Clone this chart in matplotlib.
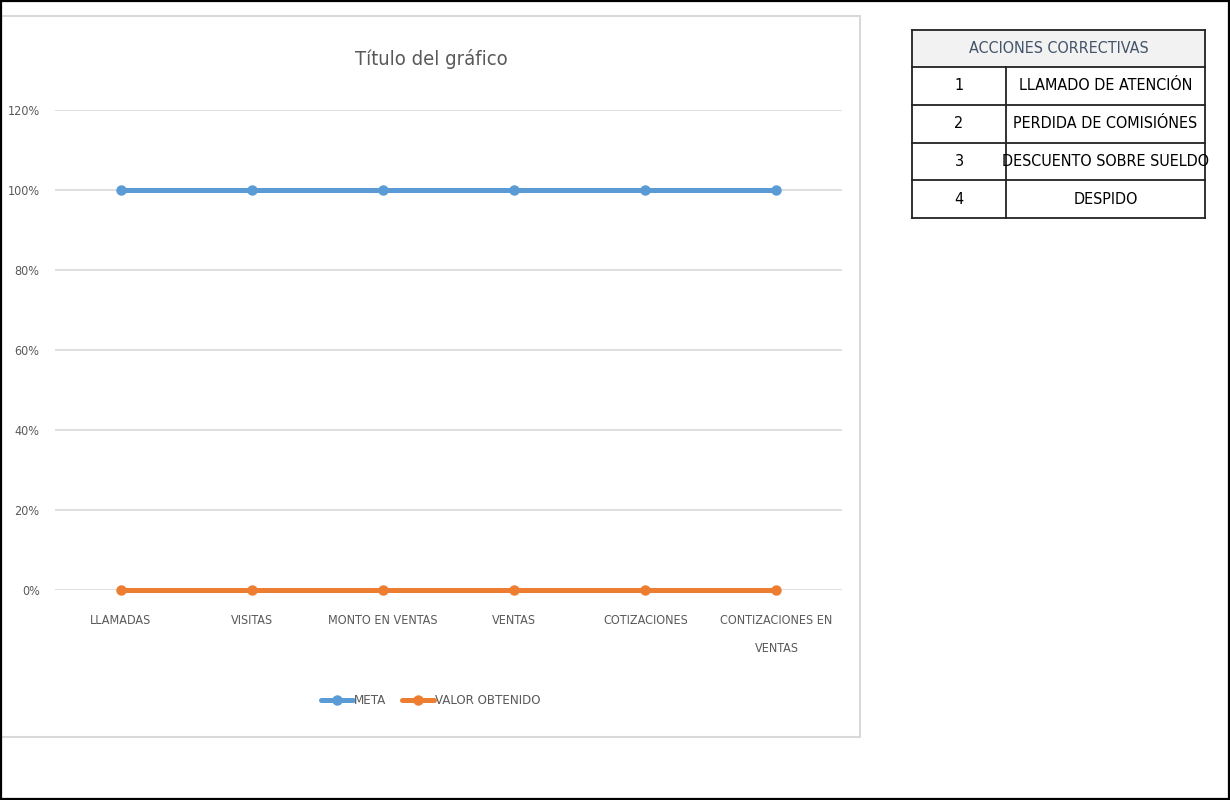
import matplotlib
matplotlib.use("Agg")
import matplotlib.pyplot as plt
from matplotlib.patches import Rectangle
from matplotlib.ticker import PercentFormatter

plt.rcParams['font.family'] = ['DejaVu Sans']
plt.rcParams['font.stretch'] = 'condensed'

# Data
categories = ["LLAMADAS", "VISITAS", "MONTO EN VENTAS", "VENTAS",
              "COTIZACIONES", "CONTIZACIONES EN\nVENTAS"]
meta = [1.0, 1.0, 1.0, 1.0, 1.0, 1.0]
valor_obtenido = [0.0, 0.0, 0.0, 0.0, 0.0, 0.0]
y_ticks = [0.0, 0.2, 0.4, 0.6, 0.8, 1.0, 1.2]

table_header = "ACCIONES CORRECTIVAS"
action_ids = ["1", "2", "3", "4"]
action_names = ["LLAMADO DE ATENCIÓN", "PERDIDA DE COMISIÓNES",
                "DESCUENTO SOBRE SUELDO", "DESPIDO"]

W, H = 1230, 800
fig = plt.figure(figsize=(W / 100, H / 100), dpi=100)

def fx(px):
    return px / W

def fy(py):
    return 1 - py / H

# Chart frame
fig.patches.append(Rectangle((fx(1), fy(737)), fx(860) - fx(1), fy(16) - fy(737),
                             transform=fig.transFigure, fill=False,
                             edgecolor="#d9d9d9", linewidth=1.5))

ax = fig.add_axes([fx(55), fy(590), fx(842) - fx(55), fy(110) - fy(590)])
x = list(range(len(categories)))
blue = "#5b9bd5"
orange = "#ed7d31"
ax.plot(x, meta, color=blue, linewidth=3.6, marker="o", markersize=6.5,
        label="META", solid_capstyle="round", zorder=3)
ax.plot(x, valor_obtenido, color=orange, linewidth=3.6, marker="o", markersize=6.5,
        label="VALOR OBTENIDO", solid_capstyle="round", zorder=3, clip_on=False)

ax.set_xlim(-0.5, len(categories) - 0.5)
ax.set_ylim(0, 1.2)
ax.set_yticks(y_ticks)
ax.yaxis.set_major_formatter(PercentFormatter(1.0, decimals=0))
ax.set_xticks(x)
ax.set_xticklabels(categories, linespacing=2.5)
ax.grid(axis="y", color="#d9d9d9", linewidth=1.2)
ax.set_axisbelow(True)
for s in ax.spines.values():
    s.set_visible(False)
ax.tick_params(axis="both", length=0, colors="#595959", labelsize=9)
ax.tick_params(axis="x", pad=17, labelcolor="#595959")
ax.tick_params(axis="y", pad=11)

fig.text(fx(431), fy(59), "Título del gráfico", ha="center", va="center",
         fontsize=14.5, color="#595959")

leg = ax.legend(loc="center", bbox_to_anchor=(fx(431), fy(701)),
                bbox_transform=fig.transFigure, ncol=2, frameon=False,
                fontsize=9.5, handlelength=2.4, handletextpad=0.1,
                columnspacing=1.2, labelcolor="#595959")

# Corrective actions table
tx0, tx1, tdiv = 912, 1205, 1006
row_tops = [30, 67, 105, 143, 180, 218]
fig.patches.append(Rectangle((fx(tx0), fy(row_tops[1])), fx(tx1) - fx(tx0),
                             fy(row_tops[0]) - fy(row_tops[1]),
                             transform=fig.transFigure, facecolor="#f2f2f2",
                             edgecolor="none"))
fig.text(fx((tx0 + tx1) / 2), fy((row_tops[0] + row_tops[1]) / 2), table_header,
         ha="center", va="center", fontsize=11.5, color="#44546a")
for i, (aid, name) in enumerate(zip(action_ids, action_names)):
    yc = (row_tops[i + 1] + row_tops[i + 2]) / 2
    fig.text(fx((tx0 + tdiv) / 2), fy(yc), aid, ha="center", va="center",
             fontsize=11.5, color="black")
    fig.text(fx((tdiv + tx1) / 2), fy(yc), name, ha="center", va="center",
             fontsize=11.5, color="black")
for yt in row_tops:
    fig.add_artist(plt.Line2D([fx(tx0), fx(tx1)], [fy(yt), fy(yt)],
                              transform=fig.transFigure, color="#222222", linewidth=1.3))
for xv, yt0 in [(tx0, row_tops[0]), (tx1, row_tops[0]), (tdiv, row_tops[1])]:
    fig.add_artist(plt.Line2D([fx(xv), fx(xv)], [fy(yt0), fy(row_tops[-1])],
                              transform=fig.transFigure, color="#222222", linewidth=1.3))

# Outer border
fig.patches.append(Rectangle((0.0008, 0.0012), 0.9984, 0.9976, transform=fig.transFigure,
                             fill=False, edgecolor="black", linewidth=1.6))

fig.savefig("out.png", dpi=100)
